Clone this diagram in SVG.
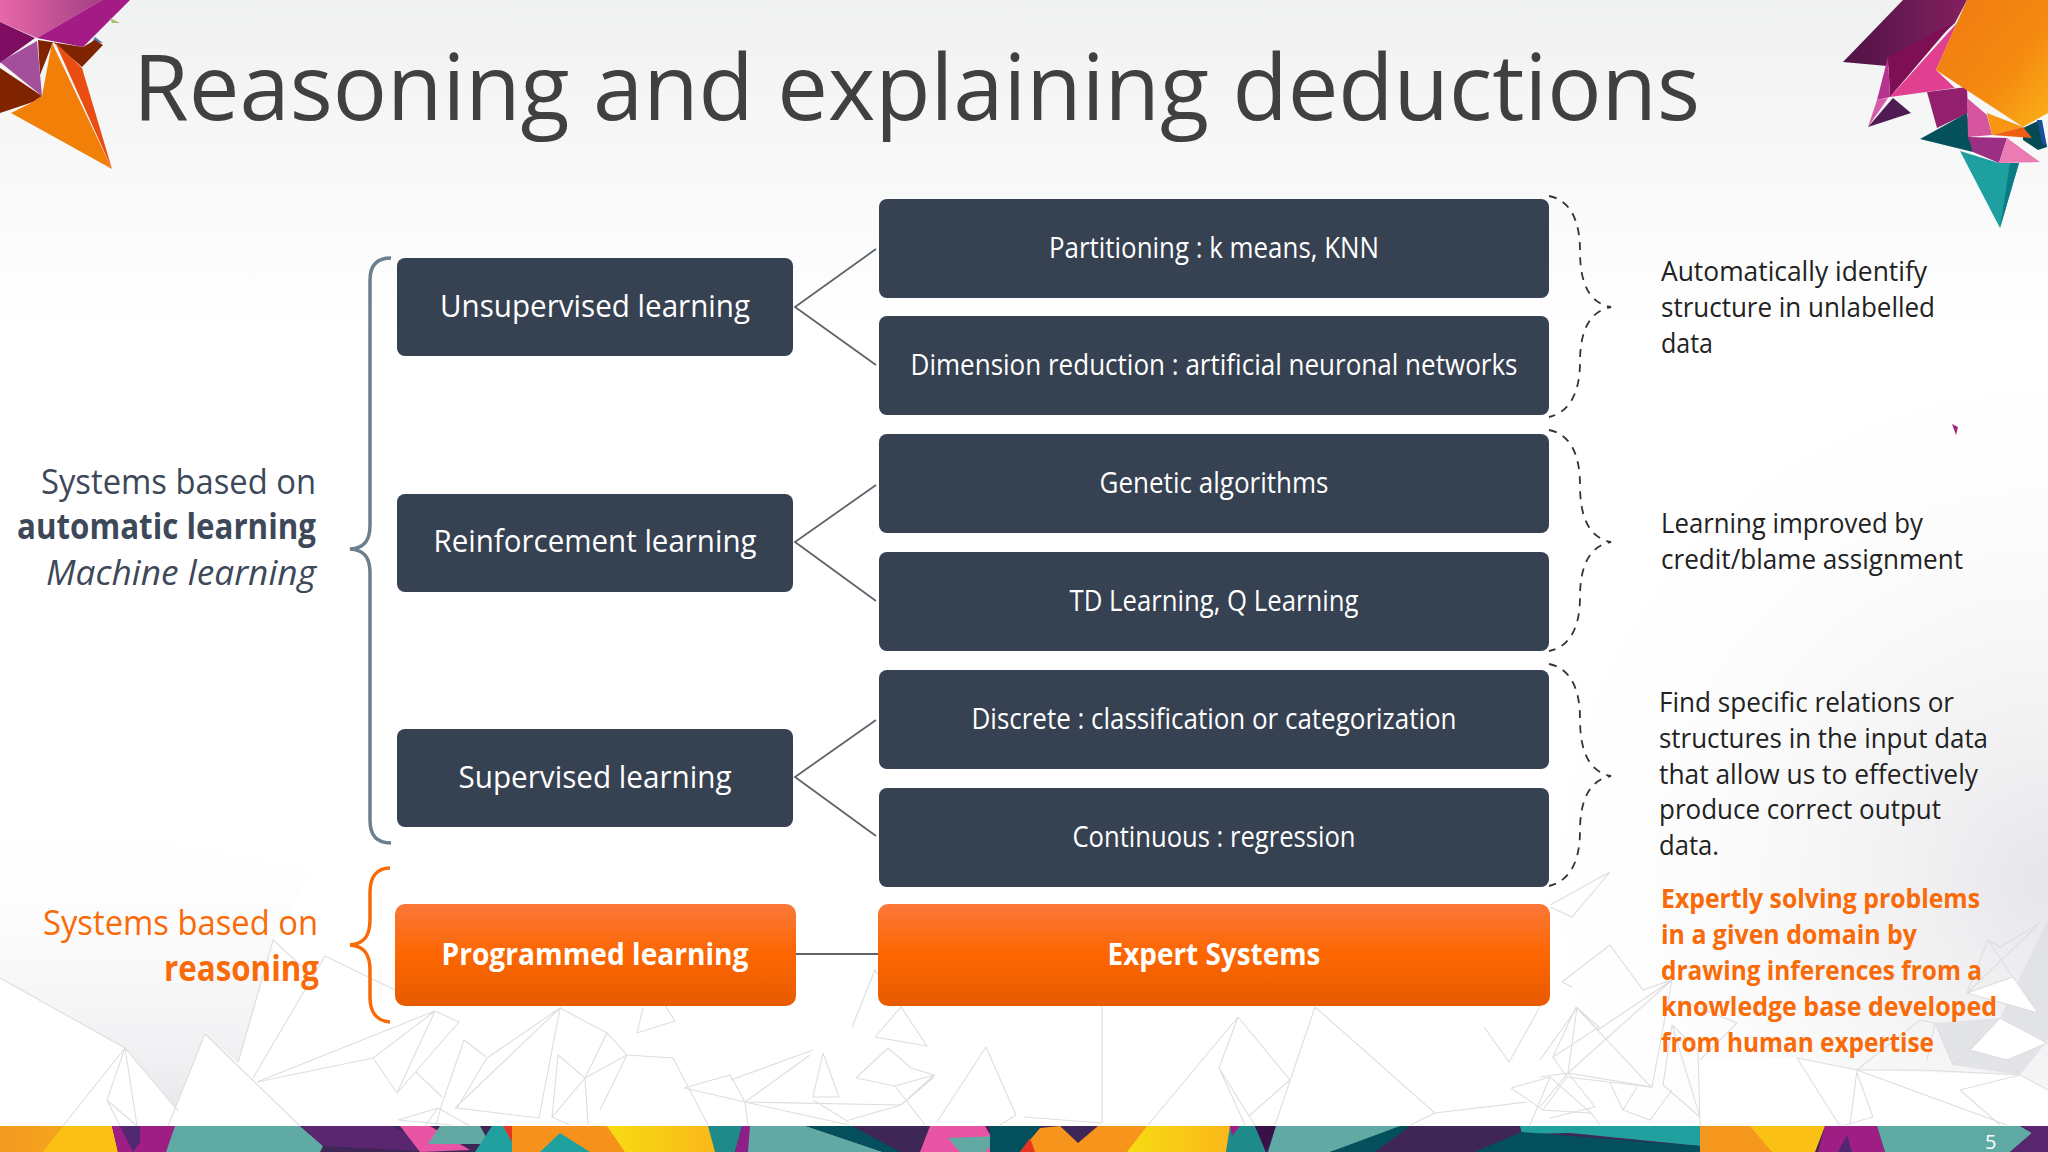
<svg xmlns="http://www.w3.org/2000/svg" width="2048" height="1152" viewBox="0 0 2048 1152">
<style>
text{font-family:"Open Sans","Noto Sans","Liberation Sans",sans-serif}
.dark{fill:#364152}
.lbl{fill:#fff;text-anchor:middle;font-size:28.5px}
.big{fill:#fff;text-anchor:middle;font-size:31px}
.org{fill:#fff;text-anchor:middle;font-size:31px;font-weight:700}
.note{fill:#222;font-size:27.5px}
.onote{fill:#f96a08;font-size:27.5px;font-weight:700}
.side{fill:#3d4859;font-size:35px;text-anchor:end}
.oside{fill:#f96a08;font-size:35px;text-anchor:end}
.fan{fill:none;stroke:#5f6468;stroke-width:1.8}
.dash{fill:none;stroke:#333;stroke-width:1.8;stroke-dasharray:8 7}
.wire{fill:none;stroke:#dedee1;stroke-width:1.1}
</style>
<defs>
<linearGradient id="bgTop" x1="0" y1="0" x2="0" y2="1"><stop offset="0" stop-color="#f0f1f1"/><stop offset="1" stop-color="#fff"/></linearGradient>
<radialGradient id="bgRight" gradientUnits="userSpaceOnUse" cx="2048" cy="880" r="560"><stop offset="0" stop-color="#e6e6e9"/><stop offset="1" stop-color="#fff" stop-opacity="0"/></radialGradient>
<linearGradient id="facet" x1="0" y1="1" x2="0" y2="0"><stop offset="0" stop-color="#e9e9ed"/><stop offset="1" stop-color="#fff" stop-opacity="0"/></linearGradient>
<linearGradient id="orangeBox" x1="0" y1="0" x2="0" y2="1"><stop offset="0" stop-color="#fb783a"/><stop offset=".5" stop-color="#fc6600"/><stop offset="1" stop-color="#e75b02"/></linearGradient>
<linearGradient id="pinkTop" x1="0" y1="0" x2="1" y2="0"><stop offset="0" stop-color="#e868a8"/><stop offset="1" stop-color="#a33f85"/></linearGradient>
<linearGradient id="bigOrange" x1="0" y1="0" x2="1" y2="1"><stop offset="0" stop-color="#ef7a12"/><stop offset=".6" stop-color="#f58a10"/><stop offset="1" stop-color="#fbb018"/></linearGradient>
<linearGradient id="plum" x1="0" y1="0" x2="1" y2="0"><stop offset="0" stop-color="#4f1346"/><stop offset="1" stop-color="#84205f"/></linearGradient>
<linearGradient id="bandO" x1="0" y1="0" x2="1" y2="0"><stop offset="0" stop-color="#f39a20"/><stop offset="1" stop-color="#f5a71a"/></linearGradient>
<linearGradient id="bandY" x1="0" y1="0" x2="1" y2="0"><stop offset="0" stop-color="#f6dc12"/><stop offset="1" stop-color="#fbb61a"/></linearGradient>
</defs>

<rect width="2048" height="1152" fill="#fff"/>
<rect width="2048" height="330" fill="url(#bgTop)"/>
<rect x="1400" y="300" width="648" height="830" fill="url(#bgRight)"/>

<g id="background-wireframe">
<polygon points="0,978 125,1048 178,1111 205,1034 238,1063 275,940 310,870 0,800" fill="url(#facet)"/>
<polygon points="1935,1023 1953,1065 2020,1075 2048,1040 2048,920 2000,1018" fill="#dfe0e3" opacity=".8"/>
<polygon points="0,978 125,1048 63,1126 0,1126" fill="#fff"/>
<polygon points="205,1034 300,1126 168,1126" fill="#fff"/>
<polygon points="1967,993 2013,977 2038,1013" fill="#fff"/>
<polygon points="1970,1050 2000,1018 2047,1043 2007,1060" fill="#fff"/>
<polygon points="1797,1058 1857,1070 2020,1075 2048,1090 2048,1126 1700,1126 1700,1060" fill="#fff"/>
<path class="wire" d="M0,978L125,1048L178,1111M125,1048L63,1126M125,1048L107,1100L137,1126M125,1048L137,1126M107,1100L120,1126"/>
<path class="wire" d="M205,1034L168,1126M205,1034L300,1126M238,1063L273,940L308,972M253,1078L325,956L395,990M257,1082L435,1011M257,1082L373,1058L435,1011M373,1058L397,1093L435,1011M397,1093L459,1022L435,1011M416,1072L442,1097M464,1040L441,1107L430,1148M464,1040L486,1057M455,1108L560,1008L539,1118L457,1108L487,1058L560,1008L607,1033L627,1055L673,1058L708,1125M398,1120L438,1108M398,1120L452,1125M438,1108L425,1126M438,1108L470,1126"/>
<path class="wire" d="M585,1078L607,1033M585,1078L627,1055M585,1078L588,1125M558,1055L585,1078L552,1117L558,1055M552,1117L570,1125M643,1008L637,1033L675,1021L655,990M627,1055L600,1110"/>
<path class="wire" d="M684,1088L730,1075L745,1102L684,1088M745,1102L810,1055M731,1080L813,1050M745,1102L901,1105M745,1102L849,1125M745,1102L748,1125M730,1075L745,1102M823,1053L813,1097L839,1097L823,1053M813,1100L849,1122M901,1105L849,1120M901,1105L934,1077M875,1037L901,1007L927,1046L875,1037M852,1027L875,970L901,1007M986,1047L937,1122M986,1047L1016,1115L1000,1125M888,1048L856,1078L895,1086L934,1075L911,1068L888,1048M934,1075L901,1105M895,1086L925,1125"/>
<path class="wire" d="M1102,1000L1102,1123L1024,1117M1238,1017L1219,1068L1249,1116L1256,1126M1238,1017L1290,1080L1249,1116M1238,1017L1148,1125M1219,1068L1245,1125M1315,1007L1435,1113L1410,1125M1315,1007L1275,1125M1435,1113L1527,1102M1484,1027L1509,1062L1540,1007M1576,1007L1599,1027L1553,1057L1576,1007M1553,1057L1567,1077L1651,1087L1576,1007M1511,1088L1550,1077L1591,1113L1543,1110L1511,1088M1567,1077L1543,1110M1550,1077L1530,1125M1591,1113L1600,1125"/>
<path class="wire" d="M1610,872L1572,917L1550,907M1610,872L1550,905M1610,945L1643,990L1672,980M1610,945L1562,982L1572,987M1672,980L1598,1030L1577,1008L1568,1073L1652,1087L1672,980L1568,1073M1577,1008L1540,1060M1540,1077L1568,1073L1540,1107M1568,1073L1595,1107L1550,1118M1610,1083L1623,1110L1637,1087M1623,1110L1650,1120L1672,1090M1663,1085L1700,1117L1672,1025L1663,1085M1672,1025L1698,1050L1700,1126M1700,1060L1737,1023L1680,1000"/>
<path class="wire" d="M1797,1058L1857,1070L1923,1070L2020,1075L2048,1090M1857,1070L2007,1125M1857,1070L1850,1125M1857,1073L1873,1117L1845,1125M2020,1075L1960,1090L2000,1125M1797,1058L1840,1126M1857,1070L1920,1020L1935,1023L1953,1065M1935,1023L1927,1060M1953,1065L1970,1050L2000,1018L2047,1043L2007,1060L1970,1050M2020,1075L2007,1060M1967,993L2013,977L2038,1013L1967,993M1967,993L1988,940L2000,947L2040,923L1967,993M1988,940L2013,977M1970,1050L1985,1020"/>
<polygon points="1952,424 1958,427 1956,435" fill="#a3257d"/>
</g>

<g id="corner-top-left">
<polygon points="0,0 102,0 37,38 0,22" fill="url(#pinkTop)"/>
<polygon points="37,38 83,47 130,0 102,0" fill="#a41b86"/>
<polygon points="0,22 35,38 0,63" fill="#7c0d60"/>
<polygon points="110,18 120,23 112,23" fill="#a9bd6b"/>
<polygon points="95,37 103,43 92,42" fill="#5878b4"/>
<polygon points="38,40 83,47 95,40 103,45 82,67 53,42 40,75" fill="#7f2300"/>
<polygon points="0,68 42,96 33,102 0,113" fill="#7f2300"/>
<polygon points="52,43 112,169 11,113 33,102 42,96" fill="#f17f08"/>
<polygon points="55,42 82,68 112,169" fill="#e94d12"/>
<polygon points="0,62 37,41 42,96" fill="#a44f9b"/>
</g>

<g id="corner-top-right">
<polygon points="1843,62 1903,0 1967,0 1955,23 1907,67 1887,66" fill="url(#plum)"/>
<polygon points="1888,57 1953,23 1890,97" fill="#7f0f55"/>
<polygon points="1888,57 1890,97 1877,100" fill="#b5338f"/>
<polygon points="1877,100 1868,127 1888,98" fill="#d95aa8"/>
<polygon points="1868,127 1893,98 1911,113" fill="#4f1b52"/>
<polygon points="1890,97 1957,23 1936,70 1955,88" fill="#e0408f"/>
<polygon points="1927,92 1967,87 1968,113 1937,128" fill="#92206f"/>
<polygon points="1920,139 1967,113 1973,152" fill="#05515b"/>
<polygon points="1967,98 1987,115 1992,135 1968,137" fill="#d7559f"/>
<polygon points="2023,128 2040,120 2047,147 2038,150 2023,140" fill="#034a55"/>
<polygon points="2037,120 2042,120 2047,147 2042,143" fill="#1a4f9a"/>
<polygon points="1936,70 1967,0 2048,0 2048,113 2023,127" fill="url(#bigOrange)"/>
<polygon points="1987,113 2023,127 1992,135" fill="#f89612"/>
<polygon points="1992,135 2023,127 2032,138" fill="#ee5f14"/>
<polygon points="1968,137 2007,138 1999,163 1973,152" fill="#9a2f83"/>
<polygon points="2007,138 2040,162 1999,163" fill="#ea7bb3"/>
<polygon points="1960,151 1999,163 2019,163 2000,228" fill="#1fa0a0"/>
<polygon points="2010,163 2019,163 2000,228" fill="#0b7c86"/>
</g>

<g id="bottom-band">
<rect y="1126" width="2048" height="26" fill="#3e2656"/>
<rect y="1126" width="70" height="26" fill="url(#bandO)"/>
<polygon points="63,1126 112,1126 118,1152 43,1152" fill="#fbc014"/>
<polygon points="112,1126 180,1126 166,1152 118,1152" fill="#9e1e84"/>
<polygon points="120,1126 140,1126 140,1142 133,1152" fill="#4f2870"/>
<polygon points="175,1126 300,1126 323,1146 320,1152 166,1152" fill="#60aaa4"/>
<polygon points="300,1126 392,1126 440,1152 323,1146" fill="#5b2670"/>
<polygon points="400,1126 430,1126 470,1150 420,1152" fill="#e855a5"/>
<polygon points="440,1126 480,1126 490,1144 428,1144" fill="#62a9a3"/>
<polygon points="492,1126 505,1126 520,1152 475,1152" fill="#21a0a0"/>
<polygon points="503,1126 520,1126 512,1142" fill="#e8351f"/>
<polygon points="512,1126 612,1126 632,1152 512,1152" fill="#f6921c"/>
<polygon points="540,1152 560,1133 590,1152" fill="#21a0a0"/>
<polygon points="607,1126 708,1126 720,1140 715,1152 625,1152" fill="url(#bandY)"/>
<polygon points="708,1126 742,1126 735,1152 715,1152" fill="#1f8a8a"/>
<polygon points="742,1126 750,1126 760,1152 735,1152" fill="#8e1f86"/>
<polygon points="750,1126 806,1126 883,1152 748,1152" fill="#61a9a4"/>
<polygon points="806,1126 852,1126 900,1152 883,1152" fill="#034f5c"/>
<polygon points="930,1126 985,1126 1000,1152 920,1152" fill="#e855a5"/>
<polygon points="948,1138 1000,1136 985,1152 960,1152" fill="#62a9a3"/>
<polygon points="990,1126 1040,1126 1030,1152 990,1152" fill="#034f5c"/>
<polygon points="1020,1152 1040,1128 1060,1126 1078,1143 1098,1126 1160,1126 1135,1152" fill="#f6941c"/>
<polygon points="1020,1152 1030,1138 1035,1152" fill="#e8351f"/>
<polygon points="1147,1126 1230,1126 1232,1140 1226,1152 1127,1152" fill="url(#bandY)"/>
<polygon points="1230,1126 1255,1126 1266,1152 1226,1152" fill="#1f8a8a"/>
<polygon points="1230,1126 1240,1126 1232,1136" fill="#9e1e84"/>
<polygon points="1255,1126 1276,1126 1266,1152" fill="#3a1049"/>
<polygon points="1276,1126 1410,1126 1330,1152 1268,1152" fill="#61a9a4"/>
<polygon points="1400,1126 1420,1126 1375,1152 1330,1152" fill="#034f5c"/>
<polygon points="1410,1126 1520,1126 1474,1152 1375,1152" fill="#3e2656"/>
<polygon points="1520,1126 1700,1126 1700,1146 1570,1133 1522,1134" fill="#21a0a0"/>
<polygon points="1474,1152 1522,1132 1700,1146 1700,1152" fill="#034f5c"/>
<polygon points="1700,1126 1760,1126 1772,1152 1700,1152" fill="#f5961d"/>
<polygon points="1750,1126 1825,1126 1815,1152 1772,1152" fill="#fbc014"/>
<polygon points="1825,1126 1877,1126 1885,1152 1818,1152" fill="#9e1e84"/>
<polygon points="1838,1152 1847,1135 1852,1152" fill="#4f2870"/>
<polygon points="1877,1126 2020,1126 2032,1133 2010,1152 1885,1152" fill="#60aaa4"/>
<polygon points="2020,1126 2048,1126 2048,1152 2010,1152 2032,1133" fill="#5b2670"/>
<line x1="0" y1="1125.5" x2="2048" y2="1125.5" stroke="#fff" stroke-opacity=".3"/>
</g>

<g id="connectors">
<path class="fan" d="M876,249L795,307L876,365"/>
<path class="fan" d="M876,485L795,542L876,601"/>
<path class="fan" d="M876,720L795,777L876,836"/>
<path d="M796,954H878" fill="none" stroke="#5f6468" stroke-width="2.2"/>
<path class="dash" d="M1549,196C1570,200 1580,220 1580,251C1580,285 1590,303 1611,307C1590,311 1580,330 1580,362C1580,392 1570,412 1549,417"/>
<path class="dash" d="M1549,430C1570,434 1580,454 1580,485C1580,519 1590,538 1611,542C1590,546 1580,565 1580,597C1580,627 1570,647 1549,651"/>
<path class="dash" d="M1549,664C1570,668 1580,688 1580,719C1580,753 1590,772 1611,776C1590,780 1580,799 1580,831C1580,861 1570,881 1549,886"/>
</g>

<g id="brace-automatic"><path d="M391,258C377,258 370,265 370,280V525C370,541 364,548 350,549C364,550 370,557 370,573V820C370,836 377,843 391,843" fill="none" stroke="#6b7f8e" stroke-width="3.5"/></g>
<g id="brace-reasoning"><path d="M390,868C377,868 370,877 370,892V920C370,936 364,944 350,945C364,946 370,954 370,970V998C370,1012 377,1021 390,1022" fill="none" stroke="#f96a08" stroke-width="3.5"/></g>

<text x="133" y="120" font-size="92" fill="#404040" textLength="1567" lengthAdjust="spacingAndGlyphs">Reasoning and explaining deductions</text>

<g id="side-automatic">
<text class="side" x="316" y="494" textLength="275" lengthAdjust="spacingAndGlyphs">Systems based on</text>
<text class="side" x="316" y="539" font-weight="700" textLength="299" lengthAdjust="spacingAndGlyphs">automatic learning</text>
<text class="side" x="316" y="585" font-style="italic" textLength="270" lengthAdjust="spacingAndGlyphs">Machine learning</text>
</g>
<g id="side-reasoning">
<text class="oside" x="318" y="935" textLength="275" lengthAdjust="spacingAndGlyphs">Systems based on</text>
<text class="oside" x="319" y="981" font-weight="700" textLength="155" lengthAdjust="spacingAndGlyphs">reasoning</text>
</g>

<g id="node-unsupervised"><rect class="dark" x="397" y="258" width="396" height="98" rx="8"/><text class="big" x="595" y="317" textLength="310" lengthAdjust="spacingAndGlyphs">Unsupervised learning</text></g>
<g id="node-reinforcement"><rect class="dark" x="397" y="494" width="396" height="98" rx="8"/><text class="big" x="595" y="552" textLength="323" lengthAdjust="spacingAndGlyphs">Reinforcement learning</text></g>
<g id="node-supervised"><rect class="dark" x="397" y="729" width="396" height="98" rx="8"/><text class="big" x="595" y="788" textLength="273" lengthAdjust="spacingAndGlyphs">Supervised learning</text></g>
<g id="node-programmed"><rect x="395" y="904" width="401" height="102" rx="10" fill="url(#orangeBox)"/><text class="org" x="595" y="965" textLength="307" lengthAdjust="spacingAndGlyphs">Programmed learning</text></g>

<g id="node-partitioning"><rect class="dark" x="879" y="199" width="670" height="99" rx="8"/><text class="lbl" x="1214" y="258" textLength="330" lengthAdjust="spacingAndGlyphs">Partitioning : k means, KNN</text></g>
<g id="node-dimension"><rect class="dark" x="879" y="316" width="670" height="99" rx="8"/><text class="lbl" x="1214" y="375" textLength="607" lengthAdjust="spacingAndGlyphs">Dimension reduction : artificial neuronal networks</text></g>
<g id="node-genetic"><rect class="dark" x="879" y="434" width="670" height="99" rx="8"/><text class="lbl" x="1214" y="493" textLength="229" lengthAdjust="spacingAndGlyphs">Genetic algorithms</text></g>
<g id="node-td"><rect class="dark" x="879" y="552" width="670" height="99" rx="8"/><text class="lbl" x="1214" y="611" textLength="289" lengthAdjust="spacingAndGlyphs">TD Learning, Q Learning</text></g>
<g id="node-discrete"><rect class="dark" x="879" y="670" width="670" height="99" rx="8"/><text class="lbl" x="1214" y="729" textLength="485" lengthAdjust="spacingAndGlyphs">Discrete : classification or categorization</text></g>
<g id="node-continuous"><rect class="dark" x="879" y="788" width="670" height="99" rx="8"/><text class="lbl" x="1214" y="847" textLength="283" lengthAdjust="spacingAndGlyphs">Continuous : regression</text></g>
<g id="node-expert"><rect x="878" y="904" width="672" height="102" rx="10" fill="url(#orangeBox)"/><text class="org" x="1214" y="965" textLength="213" lengthAdjust="spacingAndGlyphs">Expert Systems</text></g>

<g id="note-unsupervised">
<text class="note" x="1661" y="281" textLength="266" lengthAdjust="spacingAndGlyphs">Automatically identify</text>
<text class="note" x="1661" y="317" textLength="274" lengthAdjust="spacingAndGlyphs">structure in unlabelled</text>
<text class="note" x="1661" y="353" textLength="52" lengthAdjust="spacingAndGlyphs">data</text>
</g>
<g id="note-reinforcement">
<text class="note" x="1661" y="533" textLength="262" lengthAdjust="spacingAndGlyphs">Learning improved by</text>
<text class="note" x="1661" y="569" textLength="302" lengthAdjust="spacingAndGlyphs">credit/blame assignment</text>
</g>
<g id="note-supervised">
<text class="note" x="1659" y="712" textLength="295" lengthAdjust="spacingAndGlyphs">Find specific relations or</text>
<text class="note" x="1659" y="748" textLength="329" lengthAdjust="spacingAndGlyphs">structures in the input data</text>
<text class="note" x="1659" y="784" textLength="319" lengthAdjust="spacingAndGlyphs">that allow us to effectively</text>
<text class="note" x="1659" y="819" textLength="282" lengthAdjust="spacingAndGlyphs">produce correct output</text>
<text class="note" x="1659" y="855" textLength="60" lengthAdjust="spacingAndGlyphs">data.</text>
</g>
<g id="note-expert">
<text class="onote" x="1661" y="908" textLength="319" lengthAdjust="spacingAndGlyphs">Expertly solving problems</text>
<text class="onote" x="1661" y="944" textLength="256" lengthAdjust="spacingAndGlyphs">in a given domain by</text>
<text class="onote" x="1661" y="980" textLength="321" lengthAdjust="spacingAndGlyphs">drawing inferences from a</text>
<text class="onote" x="1661" y="1016" textLength="336" lengthAdjust="spacingAndGlyphs">knowledge base developed</text>
<text class="onote" x="1661" y="1052" textLength="273" lengthAdjust="spacingAndGlyphs">from human expertise</text>
</g>
<text x="1985" y="1149" font-size="20" fill="#fff">5</text>
</svg>
